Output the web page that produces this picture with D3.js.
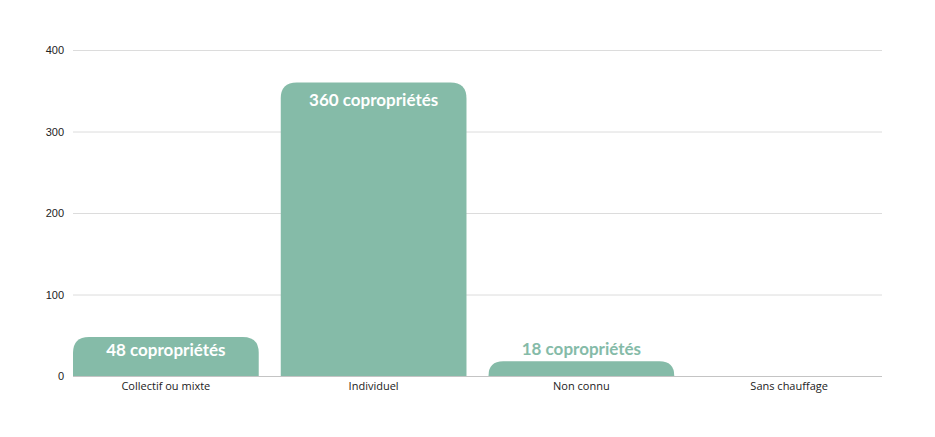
<!DOCTYPE html>
<html>
<head>
<meta charset="utf-8">
<script src="https://cdn.jsdelivr.net/npm/d3@7"></script>
<style>
  body { margin: 0; background: #fff; }
</style>
</head>
<body>
<div id="chart"></div>
<script>
const categories = ['Collectif ou mixte', 'Individuel', 'Non connu', 'Sans chauffage'];
const values = [48, 360, 18, 0];
const yTicks = [0, 100, 200, 300, 400];
const unit = 'copropriétés';

const width = 935;
const height = 437;
const margin = { top: 50, right: 53, bottom: 61, left: 73 };
const barColor = '#85bba8';

const svg = d3.select('#chart')
    .append('svg')
    .attr('width', width)
    .attr('height', height);

const x = d3.scaleBand()
    .domain(categories)
    .range([margin.left, width - margin.right])
    .paddingInner(0.106)
    .paddingOuter(0);

const y = d3.scaleLinear()
    .domain([0, 400])
    .range([height - margin.bottom, margin.top]);

// grid lines
svg.append('g')
    .selectAll('line')
    .data(yTicks.filter(d => d > 0))
    .enter()
    .append('line')
    .attr('x1', margin.left)
    .attr('x2', width - margin.right)
    .attr('y1', d => y(d) + 0.5)
    .attr('y2', d => y(d) + 0.5)
    .attr('stroke', '#dcdcdc');

// y axis labels
const yAxis = svg.append('g')
    .attr('transform', `translate(${margin.left}, 0)`)
    .call(d3.axisLeft(y).tickValues(yTicks).tickSize(0).tickPadding(9));
yAxis.select('.domain').remove();
yAxis.selectAll('text')
    .style('font', '11px "Liberation Sans", Arial, sans-serif')
    .attr('fill', '#222');

// rounded-top bar path
function barPath(x0, y0, w, h, r) {
    r = Math.min(r, h, w / 2);
    if (h <= 0) return '';
    return `M${x0},${y0 + h}` +
        `V${y0 + r}` +
        `Q${x0},${y0} ${x0 + r},${y0}` +
        `H${x0 + w - r}` +
        `Q${x0 + w},${y0} ${x0 + w},${y0 + r}` +
        `V${y0 + h}Z`;
}

const data = categories.map((c, i) => ({ cat: c, value: values[i] }));

svg.append('g')
    .selectAll('path')
    .data(data)
    .enter()
    .append('path')
    .attr('d', d => barPath(x(d.cat), y(d.value), x.bandwidth(), y(0) - y(d.value), 16))
    .attr('fill', barColor);

// x axis
const xAxis = svg.append('g')
    .attr('transform', `translate(0, ${y(0)})`)
    .call(d3.axisBottom(x).tickSize(0).tickPadding(6));
xAxis.select('.domain')
    .attr('stroke', '#c4c4c4')
    .attr('d', `M${margin.left},0.5H${width - margin.right}`);
xAxis.selectAll('text')
    .style('font', '11px "Open Sans", sans-serif')
    .attr('fill', '#222');

// value labels: inside the bar when it's tall enough, above otherwise
svg.append('g')
    .selectAll('text')
    .data(data.filter(d => d.value > 0))
    .enter()
    .append('text')
    .attr('x', d => x(d.cat) + x.bandwidth() / 2)
    .attr('y', d => {
        const top = y(d.value);
        const h = y(0) - top;
        return h > 30 ? Math.min(top + 23, (top + y(0)) / 2) : top - 6;
    })
    .attr('text-anchor', 'middle')
    .style('font', 'bold 17px Lato, "Noto Sans", sans-serif')
    .attr('fill', d => (y(0) - y(d.value)) > 30 ? '#ffffff' : barColor)
    .text(d => `${d.value} ${unit}`);
</script>
</body>
</html>
